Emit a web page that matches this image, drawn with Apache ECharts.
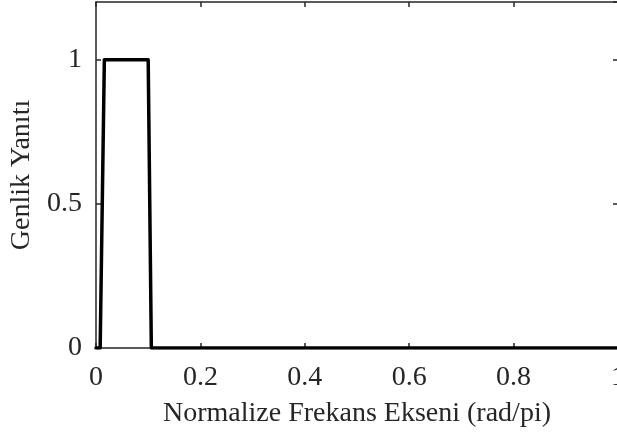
<!DOCTYPE html>
<html><head><meta charset="utf-8">
<script src="https://cdn.jsdelivr.net/npm/echarts@6/dist/echarts.min.js"></script>
<style>html,body{margin:0;padding:0;background:#fff}#c{width:617px;height:437px}</style>
</head><body><div id="c"></div>
<script>
const freq = [0, 0.008, 0.016, 0.02, 0.05, 0.08, 0.1, 0.106, 0.2, 0.4, 0.6, 0.8, 1];
const gain = [0, 0, 1, 1, 1, 1, 1, 0, 0, 0, 0, 0, 0];
const xTicks = [0, 0.2, 0.4, 0.6, 0.8, 1];
const yTicks = [0, 0.5, 1];
const xTitle = 'Normalize Frekans Ekseni (rad/pi)';
const yTitle = 'Genlik Yanıtı';

const font = 'Liberation Serif';
const ax = '#262626';
const fs = 28;
const chart = echarts.init(document.getElementById('c'));
const fmtX = v => xTicks.some(t => Math.abs(t - v) < 1e-9) ? String(+v.toFixed(1)) : '';
const fmtY = v => yTicks.some(t => Math.abs(t - v) < 1e-9) ? String(+v.toFixed(1)) : '';
const lineStyle = {color: ax, width: 1.5};
chart.setOption({
  animation: false,
  grid: {left: 96, top: 2, right: -1, bottom: 89, containLabel: false, outerBoundsMode: 'none'},
  xAxis: [{
    type: 'value', min: 0, max: 1, interval: 0.2, position: 'bottom',
    name: xTitle, nameLocation: 'middle', nameGap: 52,
    nameTextStyle: {fontFamily: font, fontSize: fs, color: ax},
    axisLine: {show: true, onZero: false, lineStyle},
    axisTick: {show: true, inside: true, length: 5, lineStyle},
    axisLabel: {fontFamily: font, fontSize: fs, color: ax, margin: 16, formatter: fmtX, hideOverlap: false},
    splitLine: {show: false}
  }, {
    type: 'value', min: 0, max: 1, interval: 0.2, position: 'top',
    axisLine: {show: true, onZero: false, lineStyle},
    axisTick: {show: true, inside: true, length: 5, lineStyle},
    axisLabel: {show: false}, splitLine: {show: false}
  }],
  yAxis: [{
    type: 'value', min: 0, max: 1.2, interval: 0.5, position: 'left',
    name: yTitle, nameLocation: 'middle', nameGap: 53,
    nameTextStyle: {fontFamily: font, fontSize: fs, color: ax},
    axisLine: {show: true, onZero: false, lineStyle},
    axisTick: {show: true, inside: true, length: 5, lineStyle},
    axisLabel: {fontFamily: font, fontSize: fs, color: ax, margin: 14, formatter: fmtY, showMaxLabel: false},
    splitLine: {show: false}
  }, {
    type: 'value', min: 0, max: 1.2, interval: 0.5, position: 'right',
    axisLine: {show: true, onZero: false, lineStyle},
    axisTick: {show: true, inside: true, length: 5, lineStyle},
    axisLabel: {show: false}, splitLine: {show: false}
  }],
  series: [{
    type: 'line', xAxisIndex: 0, yAxisIndex: 0,
    data: freq.map((f, i) => [f, gain[i]]),
    showSymbol: false, symbol: 'none',
    lineStyle: {color: '#000', width: 3.5, join: 'round', cap: 'round'},
    clip: true
  }]
});
</script></body></html>
